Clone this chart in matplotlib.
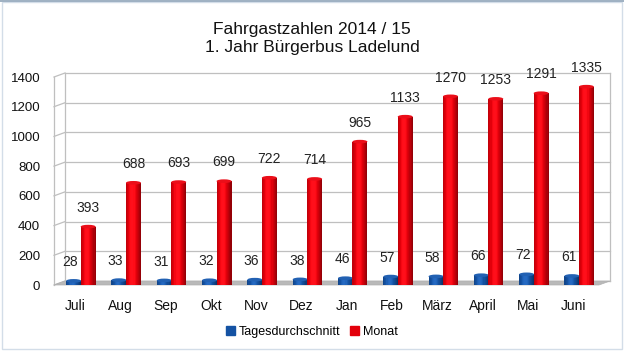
import numpy as np
import matplotlib
matplotlib.use("Agg")
import matplotlib.pyplot as plt
from matplotlib.patches import Ellipse, Polygon, Rectangle
from matplotlib.colors import to_rgb

plt.rcParams['font.family'] = ['Liberation Sans', 'DejaVu Sans']

months = ["Juli", "Aug", "Sep", "Okt", "Nov", "Dez", "Jan", "Feb", "März", "April", "Mai", "Juni"]
tages = [28, 33, 31, 32, 36, 38, 46, 57, 58, 66, 72, 61]
monat = [393, 688, 693, 699, 722, 714, 965, 1133, 1270, 1253, 1291, 1335]
yticks = [0, 200, 400, 600, 800, 1000, 1200, 1400]
title = "Fahrgastzahlen 2014 / 15\n1. Jahr Bürgerbus Ladelund"
series_names = ["Tagesdurchschnitt", "Monat"]
colors = ["#1452a3", "#e3000b"]

W, H = 624, 351
fig = plt.figure(figsize=(W / 100, H / 100), dpi=100)
ax = fig.add_axes([54 / W, 1 - 285 / H, (599 - 54) / W, (285 - 77) / H])
ax.set_xlim(-0.464, 11.568)
ax.set_ylim(0, 1400)
for s in ax.spines.values():
    s.set_visible(False)
ax.set_xticks(np.arange(len(months)))
ax.set_xticklabels(months, fontsize=10, color="#111111")
ax.set_yticks(yticks)
ax.set_yticklabels([str(v) for v in yticks], fontsize=9.5, color="#111111")
ax.tick_params(length=0)
ax.tick_params(axis='y', pad=10)
ax.tick_params(axis='x', pad=10)

# 3D depth offset (pixels -> data)
fig.canvas.draw()
p0 = ax.transData.transform((0, 0))
pd = ax.transData.inverted().transform(p0 + np.array([11, 4]))
dxd, dyd = pd[0], pd[1]
x0, x1 = ax.get_xlim()

gc = "#bfbfbf"
for v in yticks:
    ax.plot([x0 + dxd, x1 + dxd], [v + dyd, v + dyd], color=gc, lw=0.9, clip_on=False, zorder=0)
    ax.plot([x0, x0 + dxd], [v, v + dyd], color=gc, lw=0.9, clip_on=False, zorder=0)
ax.plot([x0, x0], [0, 1400], color=gc, lw=0.9, clip_on=False, zorder=0)
ax.plot([x0 + dxd, x0 + dxd], [dyd, 1400 + dyd], color=gc, lw=0.9, clip_on=False, zorder=0)
ax.plot([x1 + dxd, x1 + dxd], [dyd, 1400 + dyd], color=gc, lw=0.9, clip_on=False, zorder=0)
floor = Polygon([[x0, 0], [x1, 0], [x1 + dxd, dyd], [x0 + dxd, dyd]], closed=True,
                facecolor="#b9b9b9", edgecolor="#b0b0b0", lw=0.5, clip_on=False, zorder=1)
ax.add_patch(floor)

width = 0.33
offsets = [-0.03, 0.29]
label_dx = [-2.5, 0]
N = 14


def shade(base, t):
    c = np.array(to_rgb(base))
    f = 0.68 + 0.42 * np.cos((t - 0.42) * np.pi * 0.95)
    c2 = np.clip(c * f, 0, 1)
    if f > 1.0:
        c2 = np.clip(c2 + (f - 1.0) * 0.6, 0, 1)
    return c2


x = np.arange(len(months))
for si, (vals, col, off) in enumerate(zip([tages, monat], colors, offsets)):
    z = 3 + si
    for xi, v in zip(x, vals):
        cx = xi + off
        left = cx - width / 2
        for k in range(N):
            t = (k + 0.5) / N
            ax.bar(left + k * width / N, v, width=width / N * 1.05, align='edge',
                   color=shade(col, t), lw=0, zorder=z)
        top = Ellipse((cx, v), width, dyd * 0.9, facecolor=shade(col, 0.45) * 0.92,
                      edgecolor='none', zorder=z + 0.1)
        ax.add_patch(top)
        ax.annotate(str(v), (cx, v), xytext=(label_dx[si], 8.5), textcoords='offset points',
                    ha='center', va='bottom', fontsize=10, color="#222222", zorder=10)

fig.text(312 / W, 1 - 38.5 / H, title, ha='center', va='center', fontsize=12.5,
         linespacing=1.25, color="#111111")

handles = [Rectangle((0, 0), 1, 1, color=c) for c in colors]
fig.legend(handles, series_names, loc='center', bbox_to_anchor=(312 / W, 1 - 332 / H),
           ncol=2, frameon=False, fontsize=9, handlelength=0.7, handleheight=0.7,
           handletextpad=0.3, columnspacing=0.8, borderpad=0)

fig.patches.append(Rectangle((2 / W, 2 / H), 1 - 4 / W, 1 - 4 / H, transform=fig.transFigure,
                             facecolor='none', edgecolor='#d3dde8', lw=1))
fig.lines.append(plt.Line2D([0, 1], [1 - 1 / H, 1 - 1 / H], transform=fig.transFigure,
                            color='#8ea3b8', lw=1.2))

fig.savefig("out.png", dpi=100, facecolor='white')
